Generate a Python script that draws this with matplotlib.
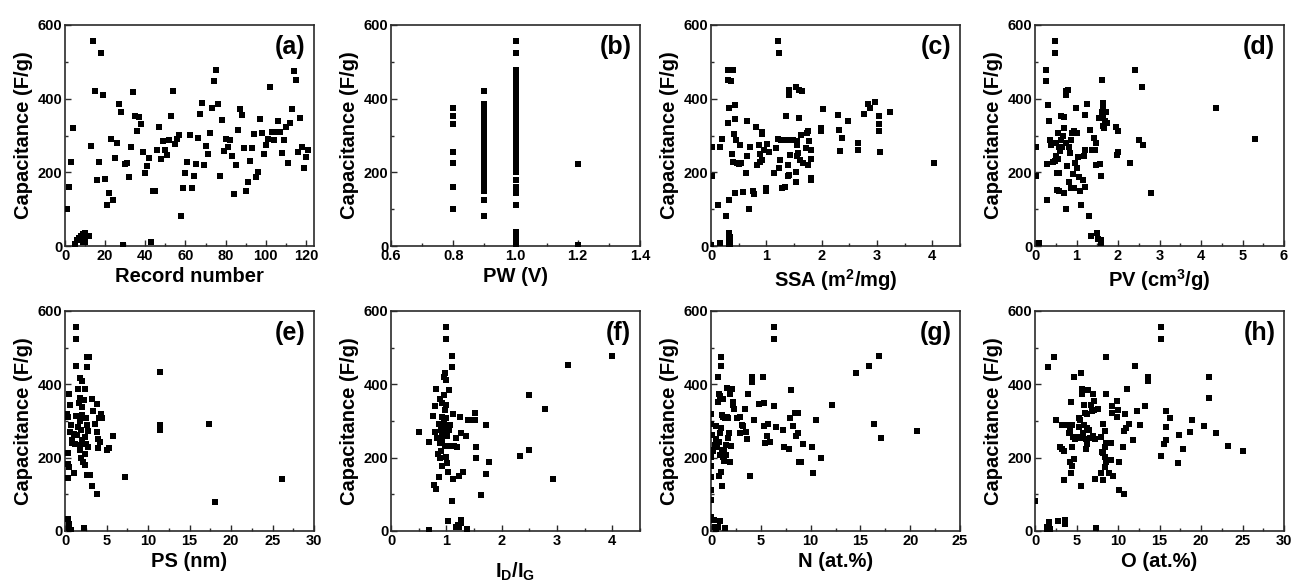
import matplotlib
matplotlib.use("Agg")
import matplotlib.pyplot as plt
from matplotlib.ticker import MultipleLocator

plt.rcParams['font.family'] = ['Liberation Sans', 'DejaVu Sans']
plt.rcParams['font.weight'] = 'bold'
plt.rcParams['mathtext.fontset'] = 'custom'
plt.rcParams['mathtext.rm'] = 'Liberation Sans:bold'
plt.rcParams['mathtext.bf'] = 'Liberation Sans:bold'
plt.rcParams['mathtext.it'] = 'Liberation Sans:bold'
plt.rcParams['mathtext.default'] = 'bf'

# ---------------- data ----------------
# (a) record number
rec_x = [1, 2, 3, 4, 5, 6, 7, 8, 9, 10, 11, 12, 9, 10,
         13, 14, 15, 16, 17, 18, 19, 20, 21, 22, 23, 24, 25, 26, 27, 28, 29, 30,
         31, 32, 33, 34, 35, 36, 37, 38, 39, 40, 41, 42, 43, 44, 45, 46, 47, 48,
         49, 50, 51, 52, 53, 54, 55, 56, 57, 58, 59, 60, 61, 62, 63, 64, 65, 66,
         67, 68, 69, 70, 71, 72, 73, 74, 75, 76, 77, 78, 79, 80, 81, 82, 83, 84,
         85, 86, 87, 88, 89, 90, 91, 92, 93, 94, 95, 96, 97, 98, 99, 100, 101,
         102, 103, 104, 105, 106, 107, 108, 109, 110, 111, 112, 113, 114, 115,
         116, 117, 118, 119, 120, 121]
rec_y = [100, 160, 227, 320, 5, 15, 22, 27, 32, 34, 28, 28, 10, 12,
         272, 557, 420, 178, 227, 525, 409, 182, 112, 143, 290, 124, 240, 279,
         385, 365, 2, 222, 225, 188, 270, 418, 352, 311, 350, 330, 255, 198, 217,
         238, 10, 150, 148, 260, 322, 236, 284, 261, 248, 287, 354, 421, 277,
         291, 301, 81, 157, 197, 228, 302, 157, 191, 223, 293, 359, 389, 219,
         271, 250, 306, 374, 448, 477, 385, 191, 341, 259, 290, 270, 289, 244,
         141, 220, 315, 373, 355, 266, 148, 174, 231, 267, 303, 186, 202, 345,
         306, 250, 273, 290, 432, 310, 287, 309, 339, 309, 253, 288, 322, 225,
         334, 373, 476, 451, 255, 347, 270, 211, 242, 260]

# (b) PW
pw_levels = [0.8, 0.9, 1.0, 1.2]
pw_caps = [
    [375, 352, 330, 256, 226, 160, 100],
    [420, 385, 368, 358, 348, 338, 325, 312, 302, 292, 282, 272, 262, 252,
     242, 232, 222, 212, 202, 192, 182, 172, 162, 150, 125, 82],
    [557, 525, 477, 468, 452, 440, 430, 420, 410, 400, 390, 380, 370, 360,
     350, 340, 330, 320, 310, 300, 290, 280, 270, 260, 250, 240, 230, 220,
     210, 200, 180, 160, 145, 112, 38, 32, 26, 20, 14, 8, 3],
    [222, 3],
]

# (c) SSA
ssa_x = [0.02, 0.02, 0.0, 0.13, 0.16, 0.17, 0.2, 0.28, 0.3, 0.3, 0.32, 0.31,
         0.32, 0.32, 0.33, 0.34, 0.33, 0.34, 0.35, 0.35, 0.33, 0.37, 0.4, 0.38,
         0.4, 0.42, 0.43, 0.44, 0.44, 0.46, 0.47, 0.5, 0.52, 0.55, 0.58, 0.64,
         0.65, 0.65, 0.68, 0.71, 0.75, 0.77, 0.81, 0.84, 0.87, 0.89, 0.89,
         0.92, 0.93, 0.93, 0.96, 0.99, 1.0, 1.02, 1.05, 1.13, 1.17, 1.21, 1.22,
         1.21, 1.23, 1.26, 1.25, 1.29, 1.34, 1.35, 1.37, 1.39, 1.39, 1.41,
         1.41, 1.41, 1.43, 1.49, 1.53, 1.53, 1.54, 1.56, 1.56, 1.56, 1.58,
         1.59, 1.59, 1.6, 1.63, 1.65, 1.66, 1.72, 1.74, 1.75, 1.76, 1.78, 1.81,
         1.81, 1.81, 1.81, 1.99, 1.99, 2.02, 2.29, 2.32, 2.33, 2.37, 2.47,
         2.65, 2.66, 2.77, 2.83, 2.88, 2.97, 3.03, 3.03, 3.04, 3.05, 3.23, 4.03]
ssa_y = [270, 189, 4, 112, 9, 270, 290, 81, 477, 452, 124, 334,
         374, 35, 30, 25, 20, 15, 10, 5, 3, 449, 477, 250,
         228, 305, 143, 384, 345, 289, 225, 223, 273, 225, 146, 198,
         243, 340, 100, 270, 150, 142, 323, 221, 273, 229, 251,
         304, 310, 234, 260, 157, 150, 278, 256, 198, 266, 557, 525,
         290, 211, 289, 234, 157, 160, 353, 288, 191, 219, 423,
         409, 192, 248, 289, 174, 202, 432, 284, 273, 243, 252,
         348, 423, 234, 301, 422, 225, 266, 307, 219, 311, 284, 236,
         260, 184, 178, 320, 311, 373, 355, 314, 259, 293, 340,
         279, 261, 359, 386, 374, 390, 353, 331, 311, 256, 365, 225]

# (d) PV
pv_x = [0.03, 0.03, 0.1, 0.26, 0.27, 0.29, 0.29, 0.31, 0.34, 0.35, 0.39, 0.43,
        0.48, 0.48, 0.48, 0.5, 0.51, 0.53, 0.54, 0.55, 0.56, 0.58, 0.59, 0.59,
        0.61, 0.63, 0.63, 0.66, 0.67, 0.69, 0.71, 0.71, 0.74, 0.74, 0.75,
        0.75, 0.77, 0.8, 0.82, 0.83, 0.85, 0.87, 0.87, 0.9, 0.91, 0.93, 0.95,
        0.96, 0.99, 1.01, 1.01, 1.04, 1.05, 1.09, 1.12, 1.16, 1.2, 1.2, 1.19,
        1.21, 1.26, 1.3, 1.33, 1.36, 1.38, 1.41, 1.45, 1.46, 1.47, 1.5, 1.52,
        1.55, 1.57, 1.58, 1.59, 1.6, 1.62, 1.62, 1.63, 1.63, 1.63, 1.65, 1.66,
        1.68, 1.72, 1.73, 1.96, 1.98, 2.0, 2.0, 2.28, 2.41, 2.5, 2.57, 2.6,
        2.8, 4.35, 5.3]
pv_y = [270, 189, 9, 477, 449, 222, 125, 384, 340, 287, 273, 228,
        557, 525, 230, 243, 280, 151, 198, 236, 307, 198, 270, 148,
        257, 354, 289, 270, 298, 320, 143, 350, 280, 409, 421,
        100, 218, 423, 270, 175, 252, 289, 157, 307, 195, 157, 311,
        225, 374, 307, 211, 241, 187, 148, 112, 180, 355, 261, 243,
        159, 386, 81, 314, 28, 260, 293, 260, 219, 280, 35, 20,
        348, 223, 191, 16, 7, 451, 364, 388, 327, 348, 372, 320,
        339, 365, 334, 322, 248, 255, 311, 225, 477, 289, 432, 274,
        143, 374, 290]

# (e) PS
ps_x = [0.4, 0.45, 0.5, 0.6, 0.7, 0.3, 0.4, 0.4, 0.36, 0.5, 0.36, 0.53, 0.57,
        0.65, 0.77, 0.8, 0.9, 1.05, 1.05, 1.2, 1.3, 1.38, 1.38, 1.38, 1.46,
        1.54, 1.6, 1.7, 1.78, 1.78, 1.78, 1.78, 1.86, 1.9, 1.94, 2.0, 2.0, 2.1,
        2.1, 2.2, 2.27, 2.3, 2.35, 2.4, 2.4, 2.43, 2.5, 2.5, 2.6, 2.6, 2.6,
        2.67, 2.75, 2.75, 2.9, 3.0, 3.2, 3.3, 3.4, 3.6, 3.8, 3.9, 3.9, 3.95,
        4.0, 4.05, 4.2, 4.37, 4.45, 5.0, 5.25, 5.8, 7.2, 11.4, 11.4, 11.4,
        17.4, 18.1, 26.2]
ps_y = [34, 20, 9, 2, 4, 319, 312, 214, 184, 175, 145, 373, 270,
        343, 289, 240, 248, 158, 264, 237, 313, 557, 525, 450, 261,
        284, 386, 348, 418, 362, 234, 221, 300, 275, 198, 409, 339, 317,
        248, 189, 9, 357, 257, 211, 180, 386, 307, 237, 474, 446, 152,
        289, 229, 273, 474, 154, 123, 359, 326, 293, 270, 346, 100, 251,
        226, 307, 244, 319, 307, 221, 226, 259, 148, 433, 289, 275,
        291, 80, 141]

# (f) ID/IG
idig_x = [0.5, 0.68, 0.68, 0.76, 0.79, 0.78, 0.81, 0.8, 0.82, 0.83, 0.85, 0.86,
          0.87, 0.88, 0.89, 0.88, 0.9, 0.91, 0.92, 0.92, 0.92, 0.93, 0.93,
          0.95, 0.95, 0.95, 0.96, 0.97, 0.97, 0.98, 0.98, 0.99, 0.99, 0.99,
          1.0, 1.0, 1.0, 1.01, 1.02, 1.02, 1.03, 1.03, 1.04, 1.04, 1.05, 1.06,
          1.1, 1.1, 1.1, 1.12, 1.12, 1.14, 1.17, 1.18, 1.2, 1.21, 1.23, 1.23,
          1.24, 1.26, 1.26, 1.27, 1.3, 1.35, 1.38, 1.4, 1.46, 1.51, 1.51, 1.53,
          1.53, 1.62, 1.71, 1.71, 1.77, 2.34, 2.49, 2.49, 2.79, 2.92, 3.2, 3.99]
idig_y = [270, 4, 243, 314, 340, 126, 114, 271, 388, 253, 211, 146,
          291, 240, 359, 199, 217, 276, 258, 312, 176, 349, 249,
          299, 371, 285, 421, 231, 330, 267, 432, 557, 525, 203,
          412, 344, 308, 285, 258, 185, 160, 27, 385, 276, 231, 290,
          477, 448, 82, 320, 143, 231, 11, 253, 229, 17, 11, 149,
          312, 31, 22, 267, 160, 260, 5, 303, 303, 321, 303, 229,
          199, 99, 290, 156, 187, 205, 371, 220, 334, 142, 452, 476]

# (g) N content
n_x = [0.0, 0.0, 0.05, 0.0, 0.05, 0.0, 0.0, 0.0, 0.0, 0.0, 0.1, 0.25, 0.3, 0.4,
       0.5, 0.4, 0.5, 0.55, 0.6, 0.67, 0.7, 0.7, 0.74, 0.78, 0.8, 0.84, 0.88,
       0.9, 0.95, 0.95, 0.98, 1.01, 1.01, 1.05, 1.08, 1.1, 1.15, 1.18, 1.2,
       1.25, 1.28, 1.35, 1.4, 1.4, 1.5, 1.5, 1.6, 1.65, 1.7, 1.7, 1.8, 1.9,
       1.95, 2.05, 2.1, 2.2, 2.25, 2.35, 2.65, 2.95, 2.95, 3.1, 3.25, 3.4,
       3.5, 3.6, 3.7, 3.9, 4.1, 4.1, 4.3, 4.8, 5.2, 5.3, 5.3, 5.4, 5.6, 5.7,
       5.9, 6.3, 6.3, 6.3, 6.5, 7.2, 7.3, 7.8, 7.9, 8.0, 8.25, 8.4, 8.5,
       8.7, 8.75, 8.8, 9.0, 9.2, 10.1, 10.2, 10.5, 11.0, 12.1, 14.6, 15.9,
       16.4, 16.9, 17.1, 20.7]
n_y = [319, 293, 261, 220, 202, 178, 148, 111, 84, 38, 261, 218, 29, 11,
       2, 234, 252, 286, 230, 419, 243, 11, 352, 374, 243, 149, 368,
       207, 26, 266, 451, 475, 280, 161, 316, 123, 220, 359, 202,
       311, 191, 222, 307, 9, 234, 208, 311, 389, 255, 309, 268, 373,
       189, 232, 387, 352, 343, 334, 309, 311, 268, 290, 286, 334,
       270, 250, 373, 149, 419, 407, 302, 346, 419, 348, 286, 239, 259, 291,
       243, 557, 525, 341, 284, 275, 228, 225, 307, 384, 286, 322, 259,
       268, 321, 189, 189, 237, 230, 157, 302, 198, 345, 432, 450,
       291, 477, 255, 273]

# (h) O content
o_x = [0.0, 1.45, 1.5, 1.6, 1.7, 1.8, 1.73, 2.26, 2.5, 2.75, 3.0, 3.2, 3.3,
       3.55, 3.55, 3.6, 3.6, 3.95, 4.15, 4.2, 4.25, 4.35, 4.35, 4.4, 4.45,
       4.5, 4.55, 4.7, 4.75, 4.85, 5.1, 5.25, 5.3, 5.4, 5.5, 5.5, 5.55, 5.65,
       5.7, 5.8, 5.9, 5.95, 6.05, 6.05, 6.1, 6.15, 6.25, 6.3, 6.3, 6.35, 6.5,
       6.6, 6.75, 6.9, 6.95, 6.95, 7.1, 7.1, 7.2, 7.25, 7.3, 7.6, 7.9, 8.0,
       8.05, 8.15, 8.2, 8.25, 8.4, 8.45, 8.45, 8.45, 8.55, 8.55, 8.6, 8.6,
       8.95, 9.2, 9.2, 9.3, 9.3, 9.35, 9.9, 9.9, 9.95, 10.1, 10.15, 10.65,
       10.7, 10.7, 10.9, 10.95, 11.1, 11.3, 11.85, 12.05, 12.25, 12.65, 13.2,
       13.6, 13.6, 15.2, 15.2, 15.2, 15.5, 15.75, 15.8, 15.8, 16.25, 17.4,
       17.8, 17.2, 18.65, 18.95, 20.4, 21.0, 21.0, 21.8, 23.3, 25.0]
o_y = [81, 4, 11, 448, 17, 6, 25, 475, 302, 26, 228, 289, 225,
       219, 140, 31, 18, 289, 266, 273, 189, 352, 157, 178, 289,
       228, 257, 419, 197, 250, 257, 284, 307, 302, 432, 254, 124, 373,
       388, 268, 289, 345, 384, 321, 252, 225, 281, 237, 318, 384, 275,
       255, 345, 326, 373, 259, 355, 331, 252, 143, 9, 334, 257, 158,
       216, 140, 293, 213, 228, 272, 202, 175, 475, 373, 240, 189,
       158, 240, 194, 341, 321, 149, 355, 310, 331, 111, 189, 228,
       273, 100, 318, 280, 386, 291, 248, 451, 326, 289, 341,
       421, 410, 557, 525, 204, 236, 284, 326, 248, 307, 263,
       224, 186, 271, 302, 286, 419, 364, 266, 231, 219]

panel_tags = ['(a)', '(b)', '(c)', '(d)', '(e)', '(f)', '(g)', '(h)']
x_labels = ['Record number', 'PW (V)', 'SSA (m$^{2}$/mg)', 'PV (cm$^{3}$/g)',
            'PS (nm)', 'I$_{D}$/I$_{G}$', 'N (at.%)', 'O (at.%)']
y_label = 'Capacitance (F/g)'

# ---------------- figure ----------------
W, H = 1292, 581
fig = plt.figure(figsize=(W / 100, H / 100), dpi=100)

col_left = [65, 391, 711, 1035]
ax_w = 249
rows = [(25, 246), (311, 531)]

pw_x = []
pw_y = []
for lvl, caps in zip(pw_levels, pw_caps):
    pw_x += [lvl] * len(caps)
    pw_y += caps

datasets = [(rec_x, rec_y), (pw_x, pw_y), (ssa_x, ssa_y), (pv_x, pv_y),
            (ps_x, ps_y), (idig_x, idig_y), (n_x, n_y), (o_x, o_y)]
xlims = [(0, 124), (0.6, 1.4), (0, 4.5), (0, 6), (0, 30), (0, 4.5), (0, 25), (0, 30)]
xmajor = [20, 0.2, 1, 1, 5, 1, 5, 5]
xminor = [10, 0.1, 0.5, 0.5, 2.5, 0.5, 2.5, 2.5]
xfmt = [None, '%.1f', None, None, None, None, None, None]
xlabelpads = [3, 3, 3, 3, 3, 9, 3, 3]

spine_col = '#2a2a2a'
for i in range(8):
    r, c = divmod(i, 4)
    top, bot = rows[r]
    ax = fig.add_axes([col_left[c] / W, 1 - bot / H, ax_w / W, (bot - top) / H])
    xs, ys = datasets[i]
    ax.scatter(xs, ys, marker='s', s=16, color='black', linewidths=0, zorder=3)
    ax.set_xlim(*xlims[i])
    ax.set_ylim(0, 600)
    ax.xaxis.set_major_locator(MultipleLocator(xmajor[i]))
    ax.xaxis.set_minor_locator(MultipleLocator(xminor[i]))
    ax.yaxis.set_major_locator(MultipleLocator(200))
    ax.yaxis.set_minor_locator(MultipleLocator(100))
    if xfmt[i]:
        ax.xaxis.set_major_formatter(matplotlib.ticker.FormatStrFormatter(xfmt[i]))
    ax.tick_params(which='both', direction='in', top=False, right=False,
                   color=spine_col, width=1.0)
    ax.tick_params(which='major', length=4, labelsize=10.5, pad=2)
    ax.tick_params(which='minor', length=2.5)
    for t in ax.get_xticklabels() + ax.get_yticklabels():
        t.set_fontweight('bold')
    for s in ax.spines.values():
        s.set_color(spine_col)
        s.set_linewidth(1.2)
    ax.set_xlabel(x_labels[i], fontsize=14.5, fontweight='bold', labelpad=xlabelpads[i])
    ax.set_ylabel(y_label, fontsize=14.5, fontweight='bold', labelpad=3)
    ax.text(0.965, 0.955, panel_tags[i], transform=ax.transAxes, ha='right',
            va='top', fontsize=18, fontweight='bold')

fig.savefig('out.png', dpi=100)
